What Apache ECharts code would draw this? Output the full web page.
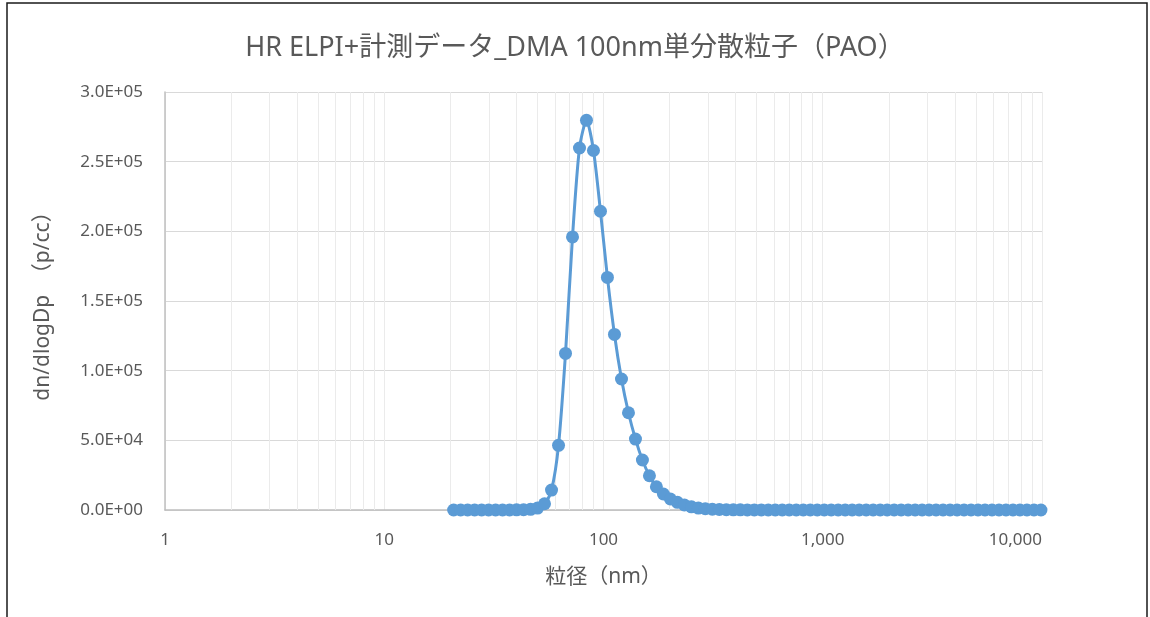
<!DOCTYPE html>
<html>
<head>
<meta charset="utf-8">
<script src="https://cdn.jsdelivr.net/npm/echarts@6/dist/echarts.min.js"></script>
<style>html,body{margin:0;padding:0;background:#fff;}#chart{width:1150px;height:617px;}</style>
</head>
<body>
<div id="chart"></div>
<script>
// particle diameter (nm)
const diameters = [20.72,22.31,24.01,25.84,27.81,29.92,32.20,34.65,37.29,40.13,
  43.19,46.48,50.02,53.83,57.94,62.35,67.10,72.21,77.71,83.63,
  90.00,96.87,104.2,112.2,120.8,130.0,139.9,150.5,162.0,174.3,
  187.6,201.9,217.3,233.9,251.7,270.9,291.4,313.6,337.6,363.3,
  391.0,420.7,452.8,487.3,524.5,564.4,607.3,653.7,703.5,757.1,
  814.8,876.9,943.7,1016,1093,1176,1266,1362,1466,1578,
  1698,1828,1967,2117,2278,2452,2638,2839,3055,3288,
  3538,3808,4098,4410,4746,5108,5496,5915,6366,6851,
  7373,7934,8538,9192,9892];
// dn/dlogDp (p/cc)
const dndlogdp = [0,0,0,0,0,0,0,0,0,100,
  200,500,1400,4500,14300,46400,112400,196000,259800,279700,
  258000,214400,166900,126000,94000,69800,50900,35900,24600,16700,
  11500,7900,5500,3600,2300,1400,900,550,350,220,
  150,100,70,50,30,20,10,0,0,0,
  0,0,0,0,0,0,0,0,0,0,
  0,0,0,0,0,0,0,0,0,0,
  0,0,0,0,0,0,0,0,0,0,
  0,0,0,0,0];
const xTickValues = [1,10,100,1000,10000];
const minorGridValues = [2,3,4,5,6,7,8,9,20,30,40,50,60,70,80,90,200,300,400,500,600,700,800,900,2000,3000,4000,5000,6000,7000,8000,9000];
const titleText = 'HR ELPI+計測データ_DMA 100nm単分散粒子（PAO）';
const xName = '粒径（nm）';
const yName = 'dn/dlogDp　（p/cc）';

const FONT = '"Noto Sans", "Noto Sans CJK JP", sans-serif';
function sci(v){
  if (v === 0) return '0.0E+00';
  const e = Math.floor(Math.log10(v) + 1e-9);
  const m = v / Math.pow(10, e);
  return m.toFixed(1) + 'E' + (e >= 0 ? '+' : '-') + String(Math.abs(e)).padStart(2, '0');
}
const chart = echarts.init(document.getElementById('chart'), null, {renderer: 'canvas'});
chart.setOption({
  animation: false,
  backgroundColor: '#ffffff',
  title: {
    text: titleText, left: 'center', top: 30,
    textStyle: {fontFamily: FONT, fontSize: 27, fontWeight: 'normal', color: '#595959'}
  },
  graphic: [{
    type: 'rect', silent: true, z: 100,
    shape: {x: 7, y: 3, width: 1140, height: 630},
    style: {fill: 'none', stroke: '#1a1a1a', lineWidth: 1.5}
  }],
  grid: {left: 165, right: 108, top: 92, bottom: 107, containLabel: false},
  xAxis: {
    type: 'log', logBase: 10, min: 1, max: 10000,
    name: xName, nameLocation: 'middle', nameGap: 57,
    nameTextStyle: {fontFamily: FONT, fontSize: 21, color: '#595959'},
    axisLine: {show: true, lineStyle: {color: '#BFBFBF', width: 1.5}},
    axisTick: {show: false},
    axisLabel: {
      fontFamily: FONT, fontSize: 17, color: '#595959', margin: 22,
      alignMaxLabel: 'right',
      formatter: v => Number(v).toLocaleString('en-US')
    },
    splitLine: {show: true, lineStyle: {color: '#EBEBEB', width: 1}},
    minorTick: {show: false}
  },
  yAxis: {
    type: 'value', min: 0, max: 300000, interval: 50000,
    name: yName, nameLocation: 'middle', nameGap: 111,
    nameTextStyle: {fontFamily: FONT, fontSize: 21, color: '#595959'},
    axisLine: {show: true, lineStyle: {color: '#BFBFBF', width: 1.5}},
    axisTick: {show: false},
    axisLabel: {fontFamily: FONT, fontSize: 17, color: '#595959', margin: 22, formatter: sci},
    splitLine: {show: true, lineStyle: {color: '#D9D9D9', width: 1.2}}
  },
  series: [
    {
      type: 'line', silent: true, data: [], z: 1,
      markLine: {
        silent: true, symbol: ['none', 'none'], animation: false,
        label: {show: false},
        lineStyle: {color: '#EBEBEB', width: 1, type: 'solid'},
        data: minorGridValues.map(v => ({xAxis: v}))
      }
    },
    {
      type: 'line', name: 'dn/dlogDp', z: 5,
      data: diameters.map((d, i) => [d, dndlogdp[i]]),
      smooth: 0.25,
      symbol: 'circle', symbolSize: 13, showAllSymbol: true,
      lineStyle: {color: '#5B9BD5', width: 3},
      itemStyle: {color: '#5B9BD5'}
    }
  ]
});
</script>
</body>
</html>
